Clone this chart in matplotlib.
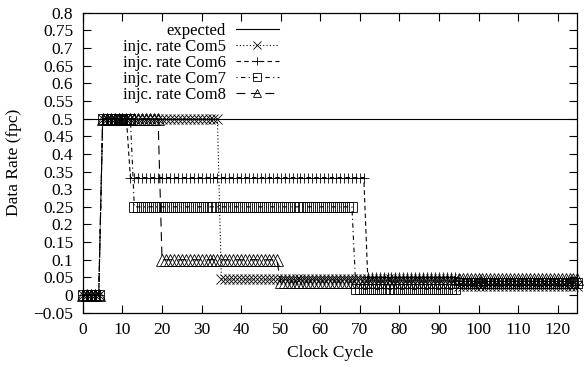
import numpy as np
import matplotlib
matplotlib.use("Agg")
import matplotlib.pyplot as plt

plt.rcParams["font.family"] = ["Liberation Serif", "DejaVu Serif"]
plt.rcParams["font.size"] = 12.5

# clock cycles shown on the x axis
cycles = np.arange(0, 126)

# each series is piecewise constant: first cycle of each level, and the level
expected_level = 0.5

com5_starts = [0, 5, 35, 95]
com5_levels = [0.0, 0.5, 0.045, 0.025]

com6_starts = [0, 5, 12, 72, 95]
com6_levels = [0.0, 0.5, 0.333, 0.05, 0.04]

com7_starts = [0, 5, 13, 69, 95]
com7_levels = [0.0, 0.5, 0.25, 0.0167, 0.033]

com8_starts = [0, 5, 20, 50, 95]
com8_levels = [0.0, 0.5, 0.1, 0.037, 0.045]


def expand(starts, levels):
    # repeat each level from its start cycle up to the next start
    ends = starts[1:] + [len(cycles)]
    counts = [e - s for s, e in zip(starts, ends)]
    return np.repeat(levels, counts)


fig = plt.figure(figsize=(5.88, 3.67), dpi=100)
ax = fig.add_axes([0.141, 0.148, 0.841, 0.817])

lw = 0.8
ax.plot([cycles[0], cycles[-1]], [expected_level, expected_level], color="black",
        lw=lw, label="expected")
ax.plot(cycles, expand(com5_starts, com5_levels), color="black", lw=lw,
        linestyle=(0, (1, 2)), marker="x", ms=6.5, mew=0.6, label="injc. rate Com5",
        clip_on=False)
ax.plot(cycles, expand(com6_starts, com6_levels), color="black", lw=lw,
        linestyle=(0, (4, 3)), marker="+", ms=7.5, mew=0.6, label="injc. rate Com6",
        clip_on=False)
ax.plot(cycles, expand(com7_starts, com7_levels), color="black", lw=lw,
        linestyle=(0, (1, 3, 4, 3)), marker="s", ms=6.5, mew=0.6, mfc="none",
        label="injc. rate Com7", clip_on=False)
ax.plot(cycles, expand(com8_starts, com8_levels), color="black", lw=lw,
        linestyle=(0, (8, 5)), marker="^", ms=8, mew=0.6, mfc="none",
        label="injc. rate Com8", clip_on=False)

ax.set_xlim(0, 125)
ax.set_ylim(-0.05, 0.8)
ax.set_xticks(np.arange(0, 121, 10))
yt = np.arange(-0.05, 0.801, 0.05)
ax.set_yticks(yt)
ax.set_yticklabels([("%.2f" % v).rstrip("0").rstrip(".").replace("-", "\u2212")
                    if abs(v) > 1e-9 else "0" for v in yt])
ax.tick_params(direction="in", length=6, width=0.8, top=True, right=True,
               labelsize=12.5, pad=7)
for s in ax.spines.values():
    s.set_linewidth(0.9)

ax.set_xlabel("Clock Cycle", fontsize=12.5, labelpad=5)
ax.set_ylabel("Data Rate (fpc)", fontsize=12.5, labelpad=8)

leg = ax.legend(loc="upper left", bbox_to_anchor=(0.06, 1.0), frameon=False,
                markerfirst=False, handlelength=2.6, labelspacing=0.0,
                handletextpad=0.6, borderaxespad=0.2, fontsize=12)
for h in leg.legend_handles:
    h.set_markersize(6)

fig.savefig("out.png", dpi=100)
